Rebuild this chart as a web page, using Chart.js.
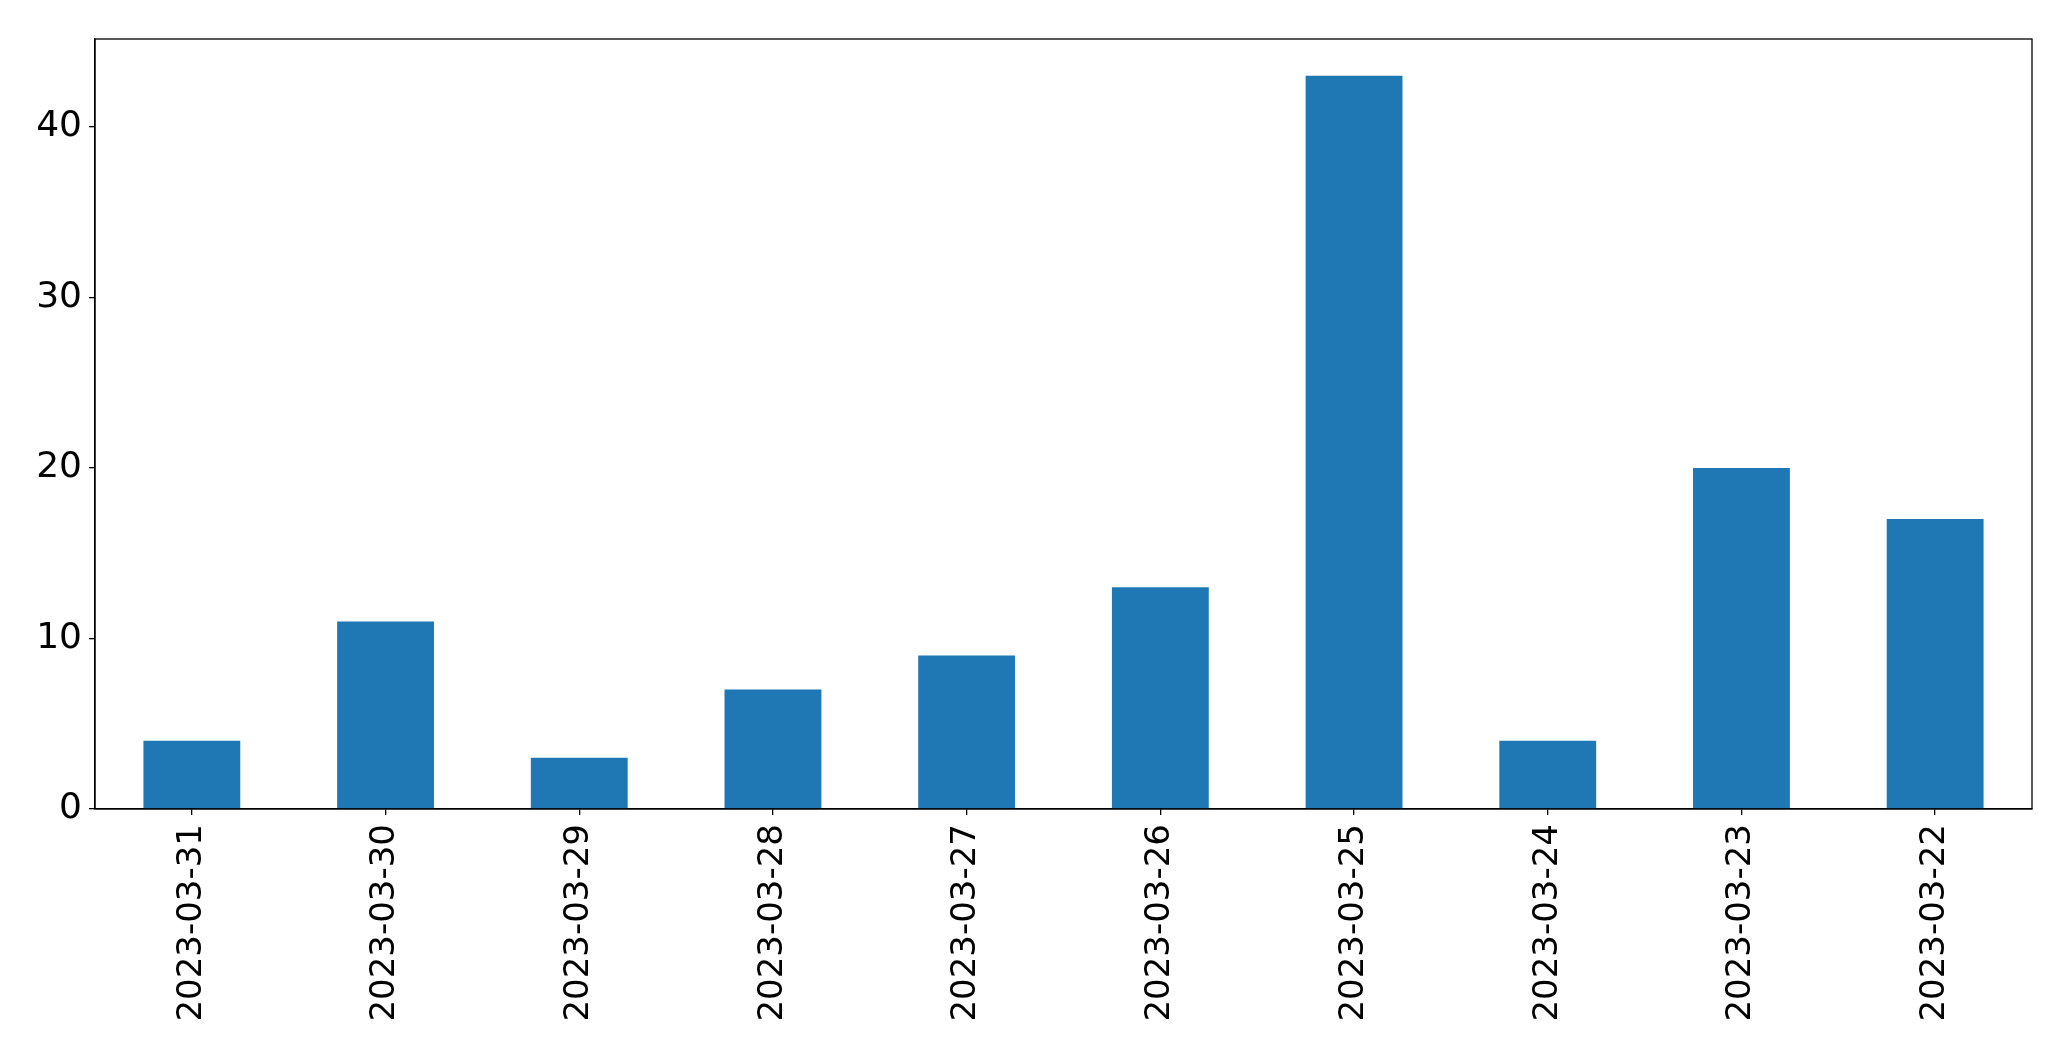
<!DOCTYPE html>
<html>
<head>
<meta charset="utf-8">
<script src="https://cdn.jsdelivr.net/npm/chart.js@4"></script>
<style>
  html, body { margin: 0; padding: 0; background: #fff; }
  #wrap { width: 2071px; height: 1061px; }
</style>
</head>
<body>
<div id="wrap"><canvas id="bars" width="2071" height="1061"></canvas></div>
<script>
const dates = ['2023-03-31', '2023-03-30', '2023-03-29', '2023-03-28', '2023-03-27',
               '2023-03-26', '2023-03-25', '2023-03-24', '2023-03-23', '2023-03-22'];
const counts = [4, 11, 3, 7, 9, 13, 43, 4, 20, 17];
const yTicks = [0, 10, 20, 30, 40];

// box around the whole plot area, like matplotlib spines
const frame = {
  id: 'frame',
  afterDraw(chart) {
    const a = chart.chartArea, ctx = chart.ctx;
    ctx.save();
    ctx.strokeStyle = '#000';
    ctx.lineWidth = 1.3;
    ctx.strokeRect(a.left, a.top, a.right - a.left, a.bottom - a.top);
    ctx.restore();
  }
};

new Chart(document.getElementById('bars'), {
  type: 'bar',
  data: {
    labels: dates,
    datasets: [{
      data: counts,
      backgroundColor: '#1f77b4',
      barPercentage: 0.5,
      categoryPercentage: 1.0
    }]
  },
  options: {
    responsive: false,
    animation: false,
    layout: { padding: { top: 39, right: 39, left: 0, bottom: 0 } },
    plugins: { legend: { display: false }, tooltip: { enabled: false } },
    scales: {
      x: {
        offset: true,
        grid: { offset: false, drawOnChartArea: false, drawTicks: true, tickLength: 6, color: '#000', lineWidth: 1.3 },
        border: { color: '#000', width: 1.3 },
        ticks: {
          color: '#000',
          font: { family: 'DejaVu Sans', size: 34 },
          minRotation: 90,
          maxRotation: 90,
          padding: 9,
          autoSkip: false
        },
        afterFit(scale) { scale.height = 1061 - 809; }
      },
      y: {
        min: 0,
        max: 45.15,
        afterBuildTicks(scale) { scale.ticks = yTicks.map(v => ({ value: v })); },
        grid: { drawOnChartArea: false, drawTicks: true, tickLength: 6, color: '#000', lineWidth: 1.3 },
        border: { color: '#000', width: 1.3 },
        ticks: {
          color: '#000',
          font: { family: 'DejaVu Sans', size: 36 },
          padding: 7
        },
        afterFit(scale) { scale.width = 95; }
      }
    }
  },
  plugins: [frame]
});
</script>
</body>
</html>
